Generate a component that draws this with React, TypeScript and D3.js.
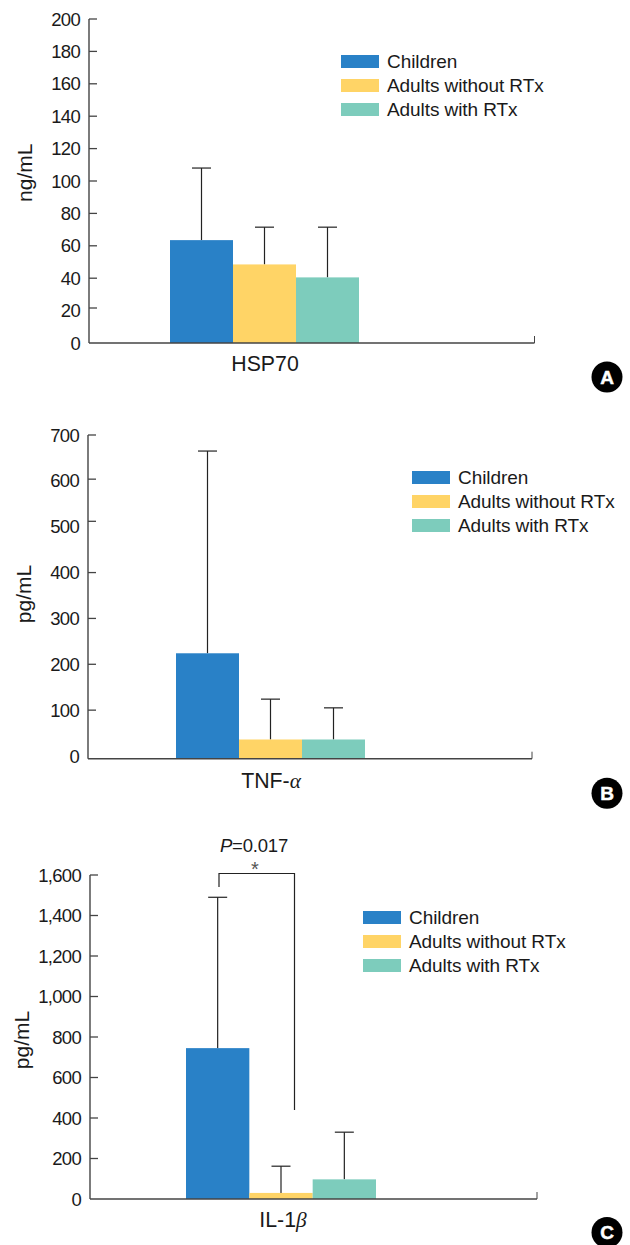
import React from "react";
import * as d3 from "d3";

const seriesNames = ["Children", "Adults without RTx", "Adults with RTx"];
const seriesColors = ["#2981c7", "#ffd466", "#7dccbc"];

const hspMeans = [63.5, 48.5, 40.5];
const hspUpper = [108, 71.5, 71.5];
const hspTicks = [0, 20, 40, 60, 80, 100, 120, 140, 160, 180, 200];

const tnfMeans = [224, 36, 36];
const tnfUpper = [665, 124, 105];
const tnfTicks = [0, 100, 200, 300, 400, 500, 600, 700];

const ilMeans = [745, 30, 97];
const ilUpper = [1490, 162, 330];
const ilTicks = [0, 200, 400, 600, 800, 1000, 1200, 1400, 1600];

const FONT = "'Liberation Sans', Arial, sans-serif";
const INK = "#1a1a1a";
const AXIS = "#444";

type Layout = {
  axisX: number; axisEnd: number; top: number; zeroY: number; baseY: number;
  barL: number; barR: number; unitX: number; unitY: number; unit: string;
  labelX: number; labelY: number; legendX: number; legendY: number;
  badge: string; badgeX: number; badgeY: number; tickShift?: Record<number, number>;
};

function Panel({ means, upper, ticks, name, greek, l }: {
  means: number[]; upper: number[]; ticks: number[]; name: string; greek?: string; l: Layout;
}) {
  const y = d3.scaleLinear().domain([ticks[0], ticks[ticks.length - 1]]).range([l.zeroY, l.top]);
  const x = d3.scaleBand<string>().domain(seriesNames).range([l.barL, l.barR]);
  const fmt = d3.format(",");
  const bw = x.bandwidth();
  return (
    <g fontFamily={FONT} fill={INK}>
      {seriesNames.map((s, i) => (
        <g key={s}>
          <line x1={x(s)! + bw / 2} x2={x(s)! + bw / 2} y1={y(means[i])} y2={y(upper[i])} stroke="#222" strokeWidth={1.2} />
          <line x1={x(s)! + bw / 2 - 9.5} x2={x(s)! + bw / 2 + 9.5} y1={y(upper[i])} y2={y(upper[i])} stroke="#222" strokeWidth={1.2} />
          <rect x={x(s)!} width={bw} y={y(means[i])} height={l.baseY - y(means[i])} fill={seriesColors[i]} />
        </g>
      ))}
      <line x1={l.axisX} x2={l.axisX} y1={l.top} y2={l.baseY} stroke={AXIS} strokeWidth={1.4} />
      <line x1={l.axisX} x2={l.axisEnd} y1={l.baseY} y2={l.baseY} stroke={AXIS} strokeWidth={1.4} />
      <line x1={l.axisEnd} x2={l.axisEnd} y1={l.baseY} y2={l.baseY - 7} stroke={AXIS} strokeWidth={1} />
      {ticks.map((t) => (
        <g key={t}>
          {t !== ticks[0] && (
            <line x1={l.axisX} x2={l.axisX + 8} y1={y(t) + (l.tickShift?.[t] ?? 0)} y2={y(t) + (l.tickShift?.[t] ?? 0)} stroke={AXIS} strokeWidth={1.3} />
          )}
          <text x={l.axisX - 9} y={y(t) + 6.6} textAnchor="end" fontSize={18.5} letterSpacing={-0.7}>{fmt(t)}</text>
        </g>
      ))}
      <text transform={`translate(${l.unitX},${l.unitY}) rotate(-90)`} textAnchor="middle" fontSize={21}>{l.unit}</text>
      <text x={l.labelX} y={l.labelY} textAnchor="middle" fontSize={21.3}>
        {name}
        {greek && <tspan fontFamily="'Liberation Serif', serif" fontStyle="italic">{greek}</tspan>}
      </text>
      {seriesNames.map((s, i) => (
        <g key={s}>
          <rect x={l.legendX} y={l.legendY + i * 24} width={38} height={13} fill={seriesColors[i]} />
          <text x={l.legendX + 46} y={l.legendY + i * 24 + 13} fontSize={19} letterSpacing={-0.08}>{s}</text>
        </g>
      ))}
      <circle cx={l.badgeX} cy={l.badgeY} r={15.5} fill="#000" />
      <text x={l.badgeX} y={l.badgeY + 6.8} textAnchor="middle" fontSize={19} fontWeight="bold" fill="#fff" stroke="#fff" strokeWidth={0.5}>{l.badge}</text>
    </g>
  );
}

export default function App() {
  return (
    <svg width={630} height={1245} style={{ position: "absolute", left: 0, top: 0 }}>
      <Panel means={hspMeans} upper={hspUpper} ticks={hspTicks} name="HSP70" l={{
        axisX: 89, axisEnd: 534.5, top: 19, zeroY: 343, baseY: 343, barL: 170, barR: 359, unitX: 32, unitY: 172.7, unit: "ng/mL",
        labelX: 265, labelY: 371, legendX: 341, legendY: 55, badge: "A", badgeX: 607, badgeY: 377, tickShift: { 20: -2.6 },
      }} />
      <Panel means={tnfMeans} upper={tnfUpper} ticks={tnfTicks} name="TNF-" greek="α" l={{
        axisX: 88, axisEnd: 532, top: 435, zeroY: 756, baseY: 758.7, barL: 176, barR: 365, unitX: 31, unitY: 594, unit: "pg/mL",
        labelX: 271, labelY: 788, legendX: 412, legendY: 471, badge: "B", badgeX: 607, badgeY: 793.3, tickShift: { 600: -1.7, 500: -5.4 },
      }} />
      <Panel means={ilMeans} upper={ilUpper} ticks={ilTicks} name="IL-1" greek="β" l={{
        axisX: 90, axisEnd: 537, top: 875, zeroY: 1199, baseY: 1199, barL: 186, barR: 376, unitX: 29, unitY: 1040, unit: "pg/mL",
        labelX: 283, labelY: 1227, legendX: 363, legendY: 911, badge: "C", badgeX: 607, badgeY: 1232.5,
      }} />
      <g fontFamily={FONT} fill={INK}>
        <path d="M219,887V873.5H294.5V1110" fill="none" stroke="#222" strokeWidth={1.2} />
        <text x={254} y={852} textAnchor="middle" fontSize={18.5} letterSpacing={-0.2}><tspan fontStyle="italic">P</tspan>=0.017</text>
        <text x={255} y={876} textAnchor="middle" fontSize={20} fill="#555">*</text>
      </g>
    </svg>
  );
}
